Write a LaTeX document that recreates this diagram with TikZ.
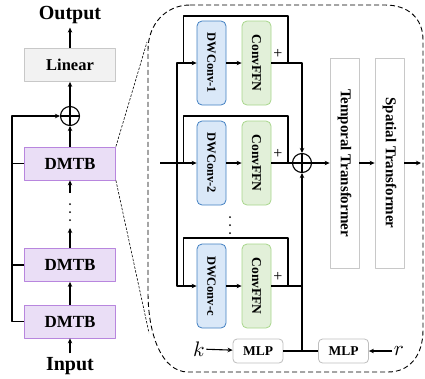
\documentclass[tikz,border=0pt]{standalone}
\usepackage{fontspec}
\setmainfont{Liberation Serif}
\usetikzlibrary{arrows.meta,calc}

\definecolor{dmtbfill}{RGB}{234,222,246}
\definecolor{dmtbdraw}{RGB}{184,134,222}
\definecolor{dwfill}{RGB}{218,232,248}
\definecolor{dwdraw}{RGB}{66,128,194}
\definecolor{ffnfill}{RGB}{226,240,217}
\definecolor{ffndraw}{RGB}{168,214,140}
\definecolor{linfill}{RGB}{242,242,242}
\definecolor{lingray}{RGB}{200,200,200}
\definecolor{mlpgray}{RGB}{190,190,190}

\tikzset{
  blk/.style={draw, line width=0.8pt, inner sep=0pt},
  dmtb/.style={blk, draw=dmtbdraw, fill=dmtbfill, minimum width=91pt, minimum height=33pt,
    font=\fontsize{17}{17}\selectfont\bfseries},
  lin/.style={blk, draw=lingray, fill=linfill, minimum width=91pt, minimum height=33pt,
    font=\fontsize{16.5}{16.5}\selectfont\bfseries},
  dwbox/.style={blk, rounded corners=5pt, draw=dwdraw, fill=dwfill, minimum width=29pt,
    minimum height=84pt, font=\fontsize{12.5}{12.5}\selectfont\bfseries},
  ffnbox/.style={blk, rounded corners=5pt, draw=ffndraw, fill=ffnfill, minimum width=29pt,
    minimum height=84pt, font=\fontsize{13.5}{13.5}\selectfont\bfseries},
  trans/.style={blk, draw=lingray, fill=white, minimum width=29pt, minimum height=210pt,
    font=\fontsize{15}{15}\selectfont\bfseries},
  mlpbox/.style={blk, rounded corners=4pt, draw=mlpgray, fill=white, minimum width=50pt,
    minimum height=24pt, font=\fontsize{13.5}{13.5}\selectfont\bfseries},
  addop/.style={circle, draw, line width=1.1pt, minimum size=19pt, inner sep=0pt,
    path picture={\draw (path picture bounding box.north) -- (path picture bounding box.south)
      (path picture bounding box.west) -- (path picture bounding box.east);}},
  plussign/.style={font=\fontsize{16}{16}\selectfont, inner sep=0pt},
  ttl/.style={font=\fontsize{20}{20}\selectfont\bfseries},
  mathlbl/.style={inner sep=1pt},
  zoomline/.style={line width=0.6pt, dash pattern=on 2.5pt off 1.5pt},
  panelframe/.style={line width=0.9pt, dash pattern=on 5pt off 3pt},
}

\begin{document}
\begin{tikzpicture}[x=1pt, y=-1pt, >={Stealth[length=5pt,width=4.5pt]}, line width=1.1pt, line join=round]
\useasboundingbox (0,0) rectangle (425,378);

% left column
\node[ttl] (output) at (70,15) {Output};
\node[lin] (linear) at (70,65) {Linear};
\node[addop] (add1) at (70,116) {};
\node[dmtb] (dmtb1) at (70,163.5) {DMTB};
\node[dmtb] (dmtb2) at (70,265) {DMTB};
\node[dmtb] (dmtb3) at (70,321.5) {DMTB};
\node[ttl] (input) at (70,366) {Input};
\coordinate (dtop) at (70,193);
\coordinate (dbot) at (70,228);
\coordinate (sk) at (12,321.5);

\draw[->] (input) -- (dmtb3);
\draw[->] (dmtb3) -- (dmtb2);
\draw[->] (dmtb2) -- (dbot);
\draw[->] (dtop) -- (dmtb1);
\draw[->] (dmtb1) -- (add1);
\draw[->] (add1) -- (linear);
\draw[->] (linear) -- (output);
\foreach \d in {204,212,220} \fill (70,\d) circle (1pt);

% skip connection
\draw[->] (dmtb3.west) -- (sk) |- (add1.west);
\draw (dmtb2.west) -- (dmtb2.west -| sk);
\draw (dmtb1.west) -- (dmtb1.west -| sk);

% zoom
\coordinate (zt) at (147,42);
\coordinate (zb) at (149,333);
\draw[zoomline] (dmtb1.north east) -- (zt);
\draw[zoomline] (dmtb1.south east) -- (zb);
\draw[panelframe] (190,5) -- (385,5) .. controls (408,5) and (423,18) .. (423,40)
  -- (423,330) .. controls (423,355) and (410,372) .. (388,372)
  -- (188,372) .. controls (162,372) and (148,335) .. (148,292)
  -- (148,50) .. controls (148,24) and (166,5) .. (190,5) -- cycle;

% DMTB inside
\node[dwbox] (dw1) at (211.5,63) {\rotatebox{-90}{DWConv-1}};
\node[ffnbox] (ffn1) at (256.5,63) {\rotatebox{-90}{ConvFFN}};
\node[dwbox] (dw2) at (211.5,163) {\rotatebox{-90}{DWConv-2}};
\node[ffnbox] (ffn2) at (256.5,163) {\rotatebox{-90}{ConvFFN}};
\node[dwbox] (dw3) at (211.5,286) {\rotatebox{-90}{DWConv-c}};
\node[ffnbox] (ffn3) at (256.5,286) {\rotatebox{-90}{ConvFFN}};
\foreach \d in {217,225,233} \fill (230,\d) circle (1pt);

\node[addop] (add2) at (302,163) {};
\node[trans] (temp) at (344.5,163) {\rotatebox{-90}{Temporal Transformer}};
\node[trans] (spat) at (389.5,163) {\rotatebox{-90}{Spatial Transformer}};

\node[mlpbox] (mlp1) at (258,351) {MLP};
\node[mlpbox] (mlp2) at (343.5,351) {MLP};
\node[mathlbl] (k) at (199,349) {\scalebox{2.1}{$k$}};
\node[mathlbl] (r) at (399,351) {\scalebox{2.1}{$r$}};

\coordinate (pin) at (160,163);
\coordinate (br) at (177,163);
\coordinate (j1) at (288,63);
\coordinate (j2) at (288,163);
\coordinate (j3) at (288,286);
\coordinate (pout) at (421,163);

\draw[->] (pin) -- (dw2);
\draw[->] (br) |- (dw1);
\draw[->] (br) |- (dw3);
\draw[->] (dw1) -- (ffn1);
\draw[->] (dw2) -- (ffn2);
\draw[->] (dw3) -- (ffn3);

% residuals
\draw ([xshift=-13pt]dw1.west) |- ([yshift=47pt]j1) -- (j1);
\draw ([xshift=-13pt]dw2.west) |- ([yshift=47pt]j2) -- (j2);
\draw ([xshift=-13pt]dw3.west) |- ([yshift=48pt]j3) -- (j3);
\node[plussign] at ([xshift=-10pt,yshift=9pt]j1) {+};
\node[plussign] at ([xshift=-10pt,yshift=9pt]j2) {+};
\node[plussign] at ([xshift=-10pt,yshift=9pt]j3) {+};

\draw[->] (ffn1) -- (j1) -| (add2.north);
\draw (ffn2) -- (add2);
\draw (ffn3) -- (j3) -- (j3 -| add2);
\draw[->] (mlp1.east -| add2) -- (add2.south);
\draw (mlp1) -- (mlp2);
\draw[->] (k) -- (mlp1);
\draw[->] (r) -- (mlp2);

\draw[->] (add2) -- (temp);
\draw[->] (temp) -- (spat);
\draw[->] (spat) -- (pout);
\end{tikzpicture}
\end{document}
